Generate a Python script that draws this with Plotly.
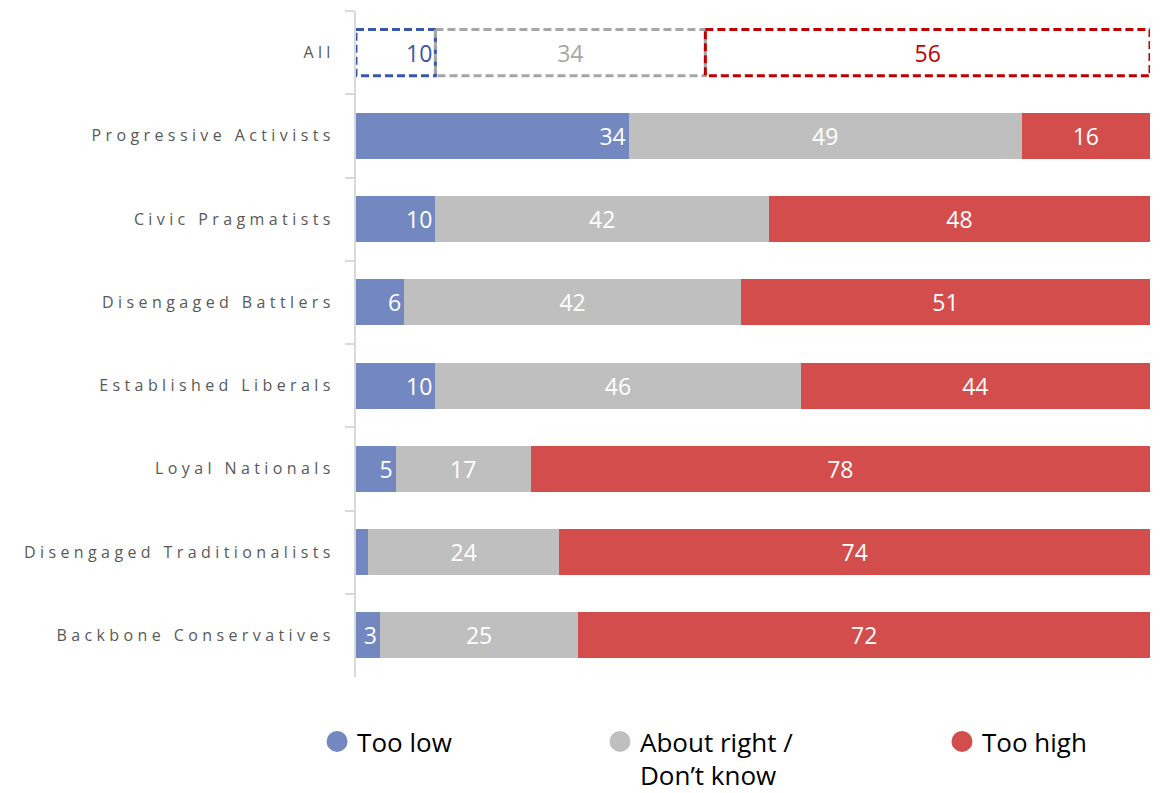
import plotly.graph_objects as go

# ---- data ----
categories = ["All", "Progressive Activists", "Civic Pragmatists", "Disengaged Battlers",
              "Established Liberals", "Loyal Nationals", "Disengaged Traditionalists",
              "Backbone Conservatives"]
too_low = [10, 34, 10, 6, 10, 5, 1.5, 3]
about_right = [34, 49, 42, 42, 46, 17, 24, 25]
too_high = [56, 16, 48, 51, 44, 78, 74, 72]
series_names = ["Too low", "About right /<br>Don’t know", "Too high"]

# ---- styles ----
fill_colors = ["#7388C1", "#BFBFBF", "#D44D4D"]
all_colors = ["#3A56A8", "#A6A6A6", "#C00000"]
legend_ids = ["legend", "legend2", "legend3"]
legend_x = [-0.0490, 0.3073, 0.7380]
BARGAP = 0.445

series = [too_low, about_right, too_high]
fig = go.Figure()
for i, (vals, name, fc, ac) in enumerate(zip(series, series_names, fill_colors, all_colors)):
    colors = ["rgba(0,0,0,0)" if c == "All" else fc for c in categories]
    tcolors = [ac if c == "All" else "white" for c in categories]
    labels = [f"{v:g}" if v >= 2.5 else "" for v in vals]
    fig.add_trace(go.Bar(
        y=categories, x=vals, orientation="h", name=name.replace("<br>", " "),
        marker=dict(color=colors, line=dict(width=0)),
        text=labels, textposition="inside",
        insidetextanchor="end" if i == 0 else "middle",
        textfont=dict(color=tcolors, size=23, family="Open Sans"),
        showlegend=False, cliponaxis=True,
    ))
    fig.add_trace(go.Scatter(
        x=[None], y=[None], mode="markers", name=name,
        marker=dict(symbol="circle", size=16, color=fc, line=dict(color=fc, width=6)),
        legend=legend_ids[i], showlegend=True,
    ))

# dashed outlines for the "All" row, computed from the data
idx = categories.index("All")
total = sum(s[idx] for s in series)
half = (1 - BARGAP) / 2
start = 0.0
for vals, ac in zip(series, all_colors):
    end = start + vals[idx] / total * 100
    fig.add_shape(type="rect", xref="x", yref="y", x0=start, x1=end,
                  y0=idx - half, y1=idx + half,
                  line=dict(color=ac, width=3, dash="8px,4px"),
                  fillcolor="rgba(0,0,0,0)", layer="above")
    start = end

legend_common = dict(yanchor="top", xanchor="left", y=-0.0616, valign="top",
                     bgcolor="rgba(0,0,0,0)", font=dict(size=26, color="black", family="Open Sans"))

fig.update_layout(
    width=1163, height=793,
    barmode="stack", barnorm="percent", bargap=BARGAP,
    margin=dict(l=356, r=13, t=11, b=116, autoexpand=False),
    plot_bgcolor="white", paper_bgcolor="white",
    font=dict(family="Open Sans"),
    uniformtext=dict(minsize=23, mode="show"),
    xaxis=dict(range=[0, 100], visible=False, fixedrange=True),
    yaxis=dict(type="category", categoryorder="array", categoryarray=categories,
               range=[len(categories) - 0.5, -0.5],
               showline=True, linecolor="#D9D9D9", linewidth=2,
               ticks="outside", tickson="boundaries", ticklen=9,
               tickcolor="#D9D9D9", tickwidth=2, ticklabelstandoff=16,
               tickfont=dict(size=16, color="#595959", family="Open Sans"),
               showgrid=False, zeroline=False),
    **{lid: dict(x=lx, **legend_common) for lid, lx in zip(legend_ids, legend_x)},
)

post = """
document.body.style.margin='0';
var gd = document.getElementById('{plot_id}');
function ls(){ gd.querySelectorAll('.ytick text').forEach(function(t){ t.setAttribute('letter-spacing','4.4px'); }); }
ls();
gd.on('plotly_afterplot', ls);
"""
fig.write_html("out.html", post_script=post, config={"displayModeBar": False})
